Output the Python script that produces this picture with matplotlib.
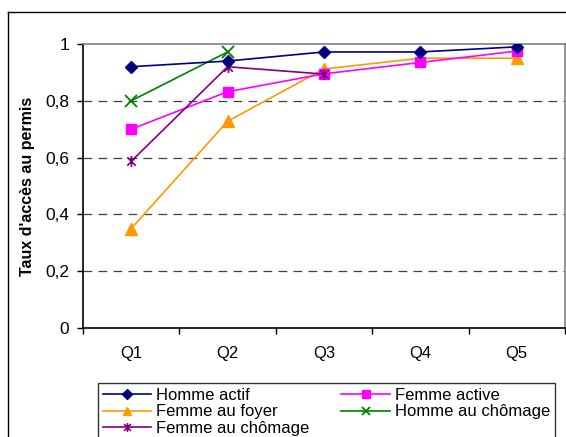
import numpy as np
import matplotlib.pyplot as plt
from matplotlib.path import Path
from matplotlib.lines import Line2D

plt.rcParams['font.family'] = ['Liberation Sans', 'DejaVu Sans']

categories = ["Q1", "Q2", "Q3", "Q4", "Q5"]
homme_actif = [0.92, 0.94, 0.972, 0.972, 0.99]
femme_active = [0.70, 0.832, 0.895, 0.935, 0.975]
femme_foyer = [0.35, 0.728, 0.912, 0.95, 0.95]
homme_chomage = [0.80, 0.972]
femme_chomage = [0.587, 0.92, 0.894]

# excel style star: x with a vertical bar
star = Path([(-1, -1), (1, 1), (-1, 1), (1, -1), (0, -1.3), (0, 1.3)],
            [Path.MOVETO, Path.LINETO, Path.MOVETO, Path.LINETO, Path.MOVETO, Path.LINETO])

fig = plt.figure(figsize=(5.66, 4.37), dpi=100)
ax = fig.add_axes([83/566, 109/437, 482/566, 284/437])

x = np.arange(len(categories))
lw = 1.2
ax.plot(x, homme_actif, '-', color='#000080', lw=lw, marker='D', ms=6.5, label="Homme actif", zorder=5)
ax.plot(x, femme_active, '-', color='#FF00FF', lw=lw, marker='s', ms=7, label="Femme active", zorder=4)
ax.plot(x, femme_foyer, '-', color='#FF9900', lw=lw, marker='^', ms=8, label="Femme au foyer", zorder=3)
ax.plot(x[:len(homme_chomage)], homme_chomage, '-', color='#008000', lw=lw, marker='x', ms=8, mew=1.3,
        label="Homme au chômage", zorder=4)
ax.plot(x[:len(femme_chomage)], femme_chomage, '-', color='#800080', lw=lw, marker=star, ms=8, mew=1.2,
        label="Femme au chômage", zorder=4)

ax.set_xlim(-0.5, 4.5)
ax.set_ylim(0, 1)
ax.set_yticks([0, 0.2, 0.4, 0.6, 0.8, 1])
ax.set_yticklabels(["0", "0,2", "0,4", "0,6", "0,8", "1"], fontsize=12.5)
ax.set_xticks(x)
ax.set_xticklabels(categories, fontsize=12)
ax.set_xticks(np.arange(-0.5, 5, 1), minor=True)
ax.tick_params(axis='x', which='major', length=0, pad=13)
ax.tick_params(axis='x', which='minor', length=4, width=1, color='black')
ax.tick_params(axis='y', length=4, width=1, pad=6)

for yv in [0.2, 0.4, 0.6, 0.8]:
    ax.axhline(yv, color='#404040', lw=0.9, ls=(0, (7, 5)), zorder=1)

ax.spines['left'].set_color('black')
ax.spines['bottom'].set_color('black')
ax.spines['top'].set_color('#808080')
ax.spines['right'].set_color('#808080')
for s in ax.spines.values():
    s.set_linewidth(1.2)

ax.set_ylabel("Taux d'accès au permis", fontsize=11.5, fontweight='bold', labelpad=7)

# chart area border (left and top visible)
fig.add_artist(Line2D([8/566, 8/566], [0, 1 - 12/437], color='black', lw=1, transform=fig.transFigure))
fig.add_artist(Line2D([8/566, 1], [1 - 12/437, 1 - 12/437], color='black', lw=1, transform=fig.transFigure))

handles, labels = ax.get_legend_handles_labels()
order = [0, 2, 4, 1, 3]
leg = fig.legend([handles[i] for i in order], [labels[i] for i in order],
                 loc='upper left', bbox_to_anchor=(98/566, 1 - 383/437, 457/566, 0.0),
                 mode='expand', ncol=2, fontsize=12, frameon=True, fancybox=False,
                 borderpad=0.3, labelspacing=0.08, handlelength=2.9, handletextpad=0.3,
                 borderaxespad=0, markerscale=0.8, columnspacing=1.0)
leg.get_frame().set_edgecolor('black')
leg.get_frame().set_linewidth(1)

fig.savefig("out.png", dpi=100)
